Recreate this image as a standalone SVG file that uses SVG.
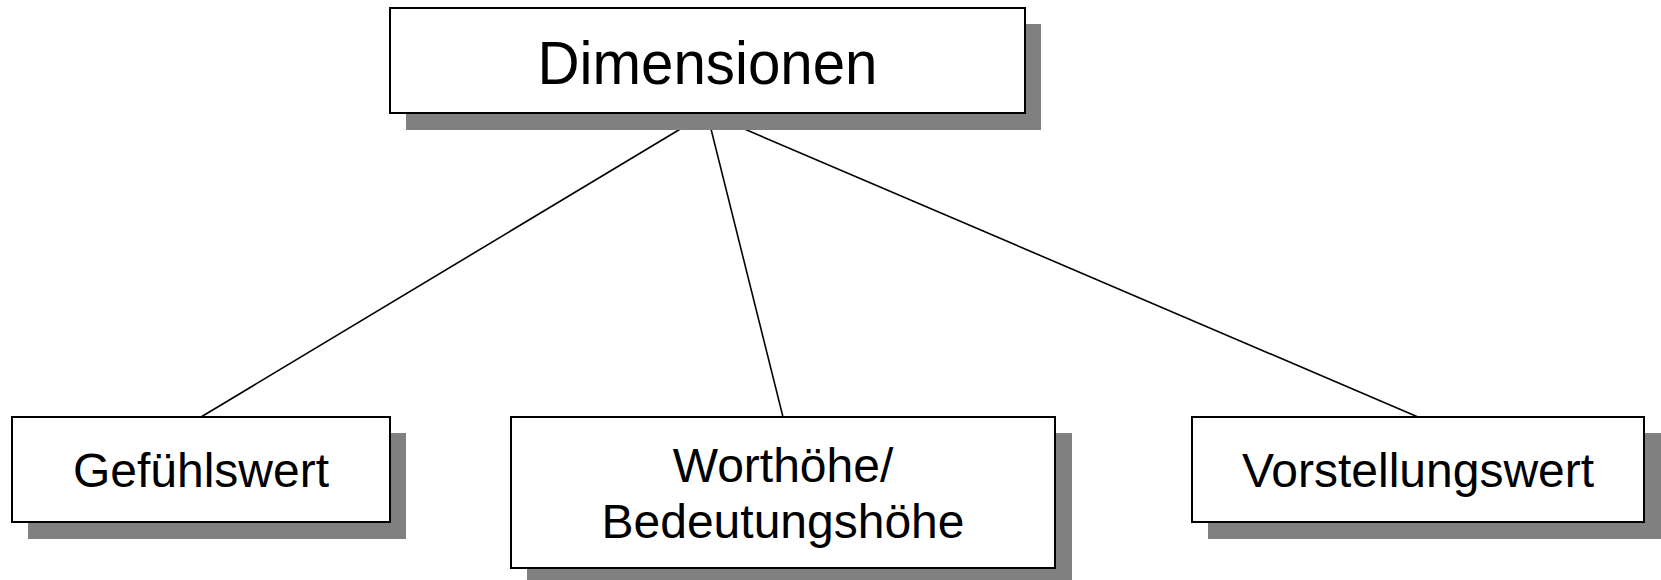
<svg xmlns="http://www.w3.org/2000/svg" width="1661" height="580" viewBox="0 0 1661 580">
  <style>
    .shadow { fill: #808080; }
    .box { fill: #ffffff; stroke: #000000; stroke-width: 2; }
    .edge { stroke: #000000; stroke-width: 1.6; fill: none; }
    .label { font-family: "Liberation Sans", Arial, sans-serif; fill: #000000; text-anchor: middle; }
  </style>
  <rect width="1661" height="580" fill="#ffffff"/>

  <!-- connectors from the root to each child -->
  <g id="connectors">
    <line class="edge" x1="707" y1="113" x2="201" y2="417"/>
    <line class="edge" x1="707" y1="113" x2="783" y2="417"/>
    <line class="edge" x1="707" y1="113" x2="1418" y2="417"/>
  </g>

  <g id="node-dimensionen">
    <rect class="shadow" x="406" y="24" width="635" height="106"/>
    <rect class="box" x="390" y="8" width="635" height="105"/>
    <text class="label" x="707.5" y="84" font-size="61" textLength="340" lengthAdjust="spacingAndGlyphs">Dimensionen</text>
  </g>

  <g id="node-gefuehlswert">
    <rect class="shadow" x="28" y="433" width="378" height="106"/>
    <rect class="box" x="12" y="417" width="378" height="105"/>
    <text class="label" x="201" y="487" font-size="48">Gefühlswert</text>
  </g>

  <g id="node-worthoehe">
    <rect class="shadow" x="527" y="433" width="545" height="152"/>
    <rect class="box" x="511" y="417" width="544" height="151"/>
    <text class="label" x="783" y="482" font-size="48">Worthöhe/</text>
    <text class="label" x="783" y="538" font-size="48">Bedeutungshöhe</text>
  </g>

  <g id="node-vorstellungswert">
    <rect class="shadow" x="1208" y="433" width="453" height="106"/>
    <rect class="box" x="1192" y="417" width="452" height="105"/>
    <text class="label" x="1418" y="487" font-size="48">Vorstellungswert</text>
  </g>
</svg>
